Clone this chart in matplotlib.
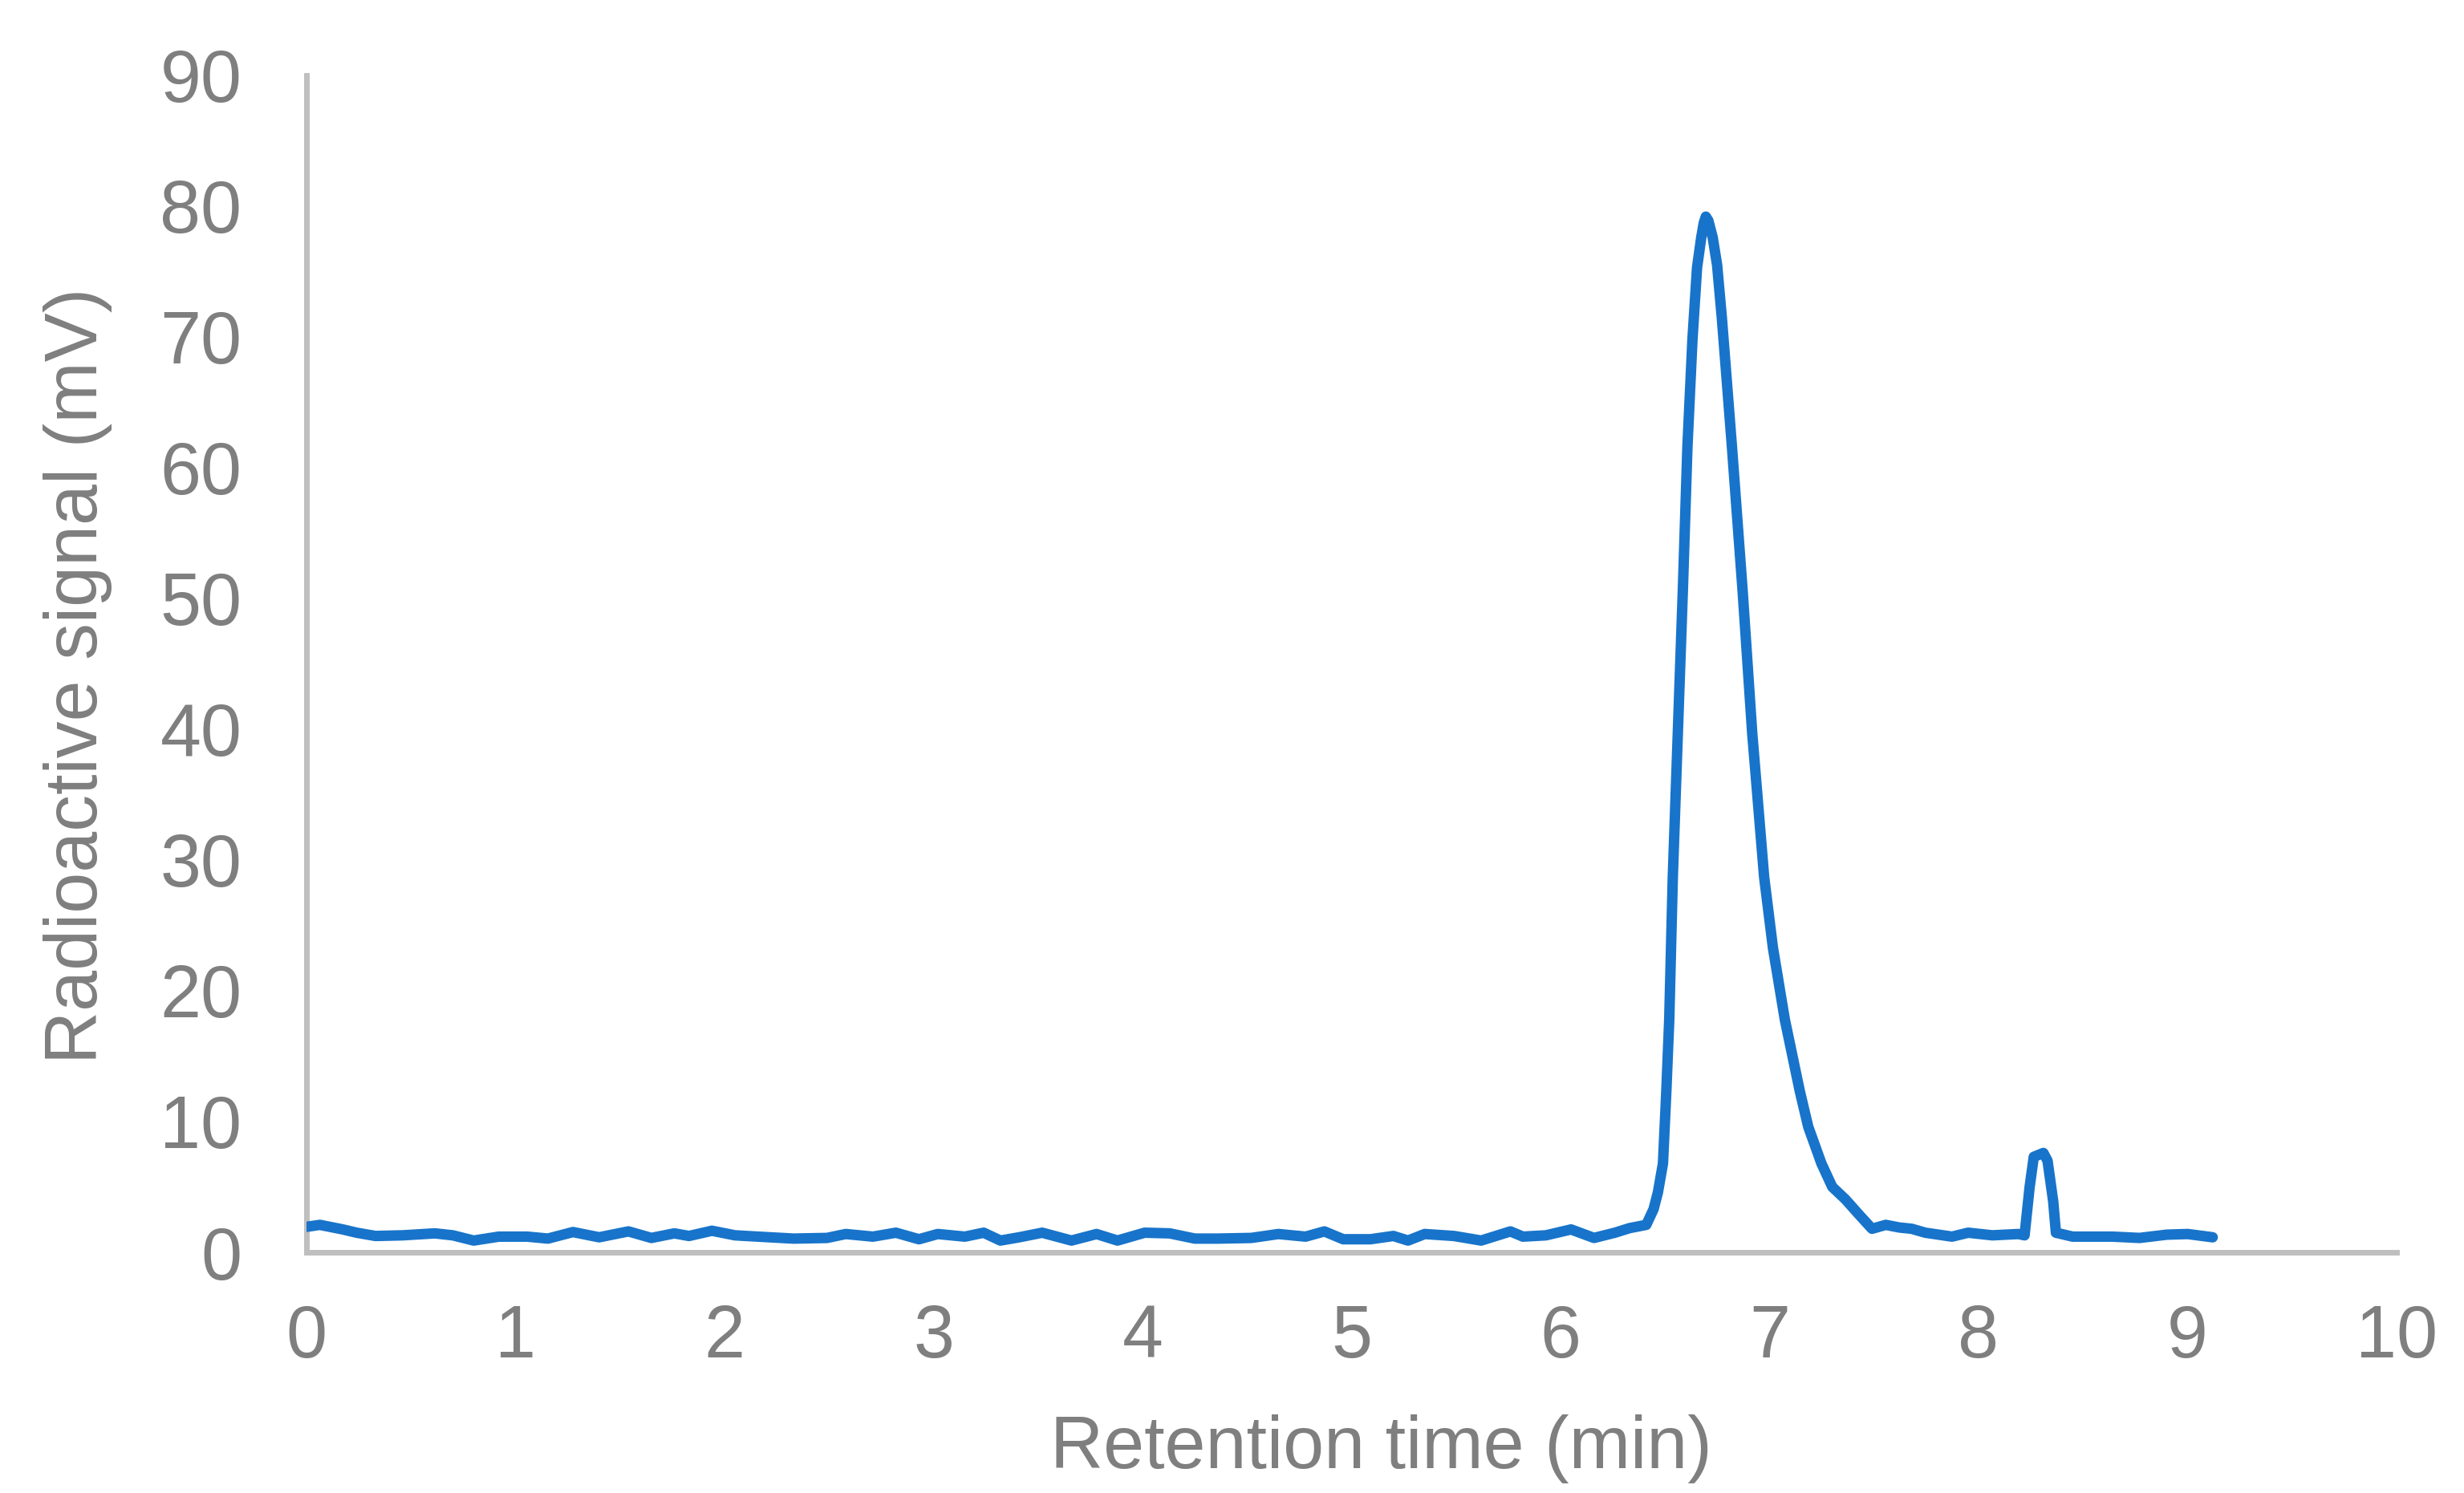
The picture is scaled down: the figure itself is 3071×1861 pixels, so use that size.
import matplotlib
matplotlib.use("Agg")
import matplotlib.pyplot as plt

# Retention time (min) and radioactive signal (mV)
time_min = [0.0, 0.064, 0.174, 0.24, 0.33, 0.46, 0.614, 0.70, 0.80, 0.92,
            1.056, 1.155, 1.275, 1.40, 1.54, 1.65, 1.76, 1.83, 1.94, 2.05,
            2.16, 2.33, 2.49, 2.58, 2.71, 2.82, 2.93, 3.02, 3.15, 3.24,
            3.32, 3.41, 3.52, 3.66, 3.78, 3.88, 4.01, 4.13, 4.25, 4.36,
            4.52, 4.65, 4.78, 4.87, 4.96, 5.09, 5.20, 5.27, 5.35, 5.49,
            5.62, 5.76, 5.82, 5.93, 6.05, 6.16, 6.26, 6.33, 6.41, 6.445,
            6.466, 6.49, 6.506, 6.52, 6.537, 6.561, 6.585, 6.607, 6.631, 6.653,
            6.673, 6.685, 6.695, 6.707, 6.728, 6.749, 6.772, 6.82, 6.871,
            6.917, 6.974, 7.016, 7.073, 7.145, 7.185, 7.248, 7.30, 7.363, 7.427,
            7.49, 7.556, 7.62, 7.68, 7.745, 7.873, 7.95, 8.066, 8.19, 8.22,
            8.244, 8.264, 8.31, 8.33, 8.357, 8.37, 8.45, 8.64, 8.77, 8.90,
            9.0, 9.12]
signal_mv = [1.95, 2.1, 1.75, 1.5, 1.25, 1.3, 1.45, 1.3, 0.9, 1.2,
             1.2, 1.05, 1.55, 1.15, 1.6, 1.1, 1.45, 1.25, 1.65, 1.3,
             1.2, 1.05, 1.1, 1.4, 1.2, 1.5, 1.0, 1.4, 1.2, 1.5,
             0.9, 1.15, 1.5, 0.9, 1.4, 0.9, 1.5, 1.45, 1.05, 1.05,
             1.1, 1.4, 1.2, 1.6, 1.0, 1.0, 1.25, 0.9, 1.4, 1.25,
             0.9, 1.6, 1.2, 1.3, 1.75, 1.1, 1.5, 1.85, 2.1, 3.3,
             4.6, 6.8, 12.3, 17.8, 28.7, 39.7, 50.6, 61.6, 69.8, 75.3,
             77.6, 78.7, 79.2, 78.9, 77.6, 75.5, 71.4, 61.6, 50.6,
             39.7, 28.7, 23.3, 17.8, 12.3, 9.6, 6.8, 5.0, 4.05, 2.9,
             1.8, 2.1, 1.9, 1.8, 1.5, 1.2, 1.5, 1.3, 1.4, 1.3,
             4.97, 7.3, 7.6, 7.0, 3.9, 1.5, 1.2, 1.2, 1.1, 1.35,
             1.4, 1.15]

x_ticks = [0, 1, 2, 3, 4, 5, 6, 7, 8, 9, 10]
y_ticks = [0, 10, 20, 30, 40, 50, 60, 70, 80, 90]
x_label = "Retention time (min)"
y_label = "Radioactive signal (mV)"

plt.rcParams['font.family'] = ['Liberation Sans', 'DejaVu Sans']

W, H = 3071, 1861
fig = plt.figure(figsize=(W / 100, H / 100), dpi=100)
ax = fig.add_axes([382 / W, 1 - 1561 / H, (2987 - 382) / W, (1561 - 94) / H])

ax.plot(time_min, signal_mv, color='#1874CA', linewidth=9.4,
        solid_capstyle='round', solid_joinstyle='round', zorder=3)

ax.set_xlim(0, 10)
ax.set_ylim(0, 90)
ax.set_xticks(x_ticks)
ax.set_yticks(y_ticks)

grey = '#7F7F7F'
for side in ['top', 'right']:
    ax.spines[side].set_visible(False)
for side in ['left', 'bottom']:
    ax.spines[side].set_color('#BFBFBF')
    ax.spines[side].set_linewidth(5)
ax.spines['bottom'].set_zorder(2)

ax.tick_params(axis='both', length=0, labelsize=66, labelcolor=grey)
ax.tick_params(axis='x', pad=46)
ax.tick_params(axis='y', pad=58)

ax.set_xlabel(x_label, fontsize=66, color=grey)
ax.set_ylabel(y_label, fontsize=66, color=grey)
ax.xaxis.set_label_coords(0.514, -0.138)
ax.yaxis.set_label_coords(-0.093, 0.49)

fig.savefig("out.png", dpi=100, facecolor='white')
